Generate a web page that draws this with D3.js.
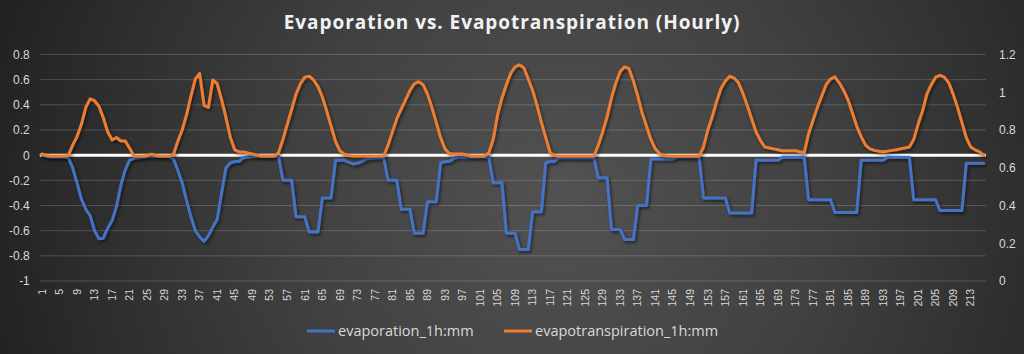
<!DOCTYPE html>
<html>
<head>
<meta charset="utf-8">
<title>Evaporation vs. Evapotranspiration (Hourly)</title>
<script src="https://cdn.jsdelivr.net/npm/d3@7"></script>
<style>
  body { margin: 0; background: #2a2a2a; }
  svg { display: block; font-family: "Open Sans", sans-serif; }
  .axis text { fill: #d9d9d9; }
  .grid-line { stroke: #d9d9d9; stroke-opacity: 0.22; stroke-width: 1; }
</style>
</head>
<body>
<script>
// hour index on the x axis
var hours = d3.range(1, 217);

// evaporation_1h:mm (left axis)
var evaporation = [
  0, -0.01, -0.015, -0.015, -0.015, -0.015, -0.02, -0.1, -0.22, -0.35,
  -0.43, -0.48, -0.6, -0.665, -0.66, -0.58, -0.52, -0.41, -0.24, -0.117,
  -0.04, -0.025, -0.02, -0.015, -0.01, -0.01, -0.01, -0.01, -0.01, -0.01,
  -0.03, -0.12, -0.22, -0.36, -0.49, -0.6, -0.65, -0.685, -0.64, -0.57,
  -0.51, -0.3, -0.1, -0.06, -0.05, -0.05, -0.02, -0.015, -0.01, -0.01,
  -0.01, -0.01, -0.01, -0.01, -0.01, -0.2, -0.2, -0.2, -0.49, -0.49,
  -0.49, -0.61, -0.61, -0.61, -0.34, -0.34, -0.34, -0.04, -0.04, -0.04,
  -0.055, -0.07, -0.065, -0.05, -0.03, -0.025, -0.022, -0.02, -0.018, -0.2,
  -0.2, -0.2, -0.43, -0.43, -0.43, -0.62, -0.62, -0.62, -0.37, -0.37,
  -0.37, -0.06, -0.05, -0.05, -0.024, -0.015, -0.015, -0.015, -0.015, -0.015,
  -0.015, -0.015, -0.015, -0.22, -0.22, -0.22, -0.62, -0.62, -0.62, -0.75,
  -0.75, -0.75, -0.45, -0.45, -0.45, -0.06, -0.05, -0.05, -0.02, -0.02,
  -0.02, -0.02, -0.02, -0.02, -0.02, -0.02, -0.02, -0.18, -0.18, -0.18,
  -0.59, -0.59, -0.59, -0.67, -0.67, -0.67, -0.4, -0.4, -0.4, -0.03,
  -0.03, -0.03, -0.03, -0.03, -0.03, -0.012, -0.012, -0.012, -0.012, -0.012,
  -0.012, -0.34, -0.34, -0.34, -0.34, -0.34, -0.34, -0.46, -0.46, -0.46,
  -0.46, -0.46, -0.46, -0.04, -0.04, -0.04, -0.04, -0.04, -0.04, -0.016,
  -0.016, -0.016, -0.016, -0.016, -0.016, -0.355, -0.355, -0.355, -0.355, -0.355,
  -0.355, -0.455, -0.455, -0.455, -0.455, -0.455, -0.455, -0.04, -0.04, -0.04,
  -0.04, -0.04, -0.04, -0.016, -0.016, -0.016, -0.016, -0.016, -0.016, -0.355,
  -0.355, -0.355, -0.355, -0.355, -0.355, -0.44, -0.44, -0.44, -0.44, -0.44,
  -0.44, -0.065, -0.065, -0.065, -0.065, -0.065
];

// evapotranspiration_1h:mm (right axis)
var evapotranspiration = [
  0.673, 0.665, 0.662, 0.662, 0.662, 0.662, 0.665, 0.72, 0.765, 0.83,
  0.92, 0.965, 0.955, 0.925, 0.865, 0.79, 0.747, 0.76, 0.742, 0.742,
  0.703, 0.662, 0.662, 0.662, 0.665, 0.672, 0.665, 0.662, 0.662, 0.662,
  0.67, 0.74, 0.8, 0.88, 0.98, 1.07, 1.1, 0.93, 0.92, 1.065,
  1.045, 0.96, 0.865, 0.76, 0.695, 0.684, 0.684, 0.678, 0.673, 0.667,
  0.662, 0.662, 0.662, 0.662, 0.68, 0.75, 0.83, 0.91, 0.99, 1.045,
  1.08, 1.085, 1.065, 1.03, 0.975, 0.9, 0.82, 0.74, 0.69, 0.672,
  0.665, 0.662, 0.662, 0.662, 0.662, 0.662, 0.662, 0.662, 0.662, 0.72,
  0.79, 0.86, 0.91, 0.96, 1.01, 1.045, 1.056, 1.04, 0.99, 0.92,
  0.84, 0.76, 0.7, 0.675, 0.673, 0.673, 0.673, 0.668, 0.662, 0.662,
  0.662, 0.662, 0.68, 0.75, 0.88, 0.97, 1.04, 1.1, 1.135, 1.145,
  1.13, 1.07, 1.01, 0.93, 0.84, 0.76, 0.68, 0.665, 0.662, 0.662,
  0.662, 0.662, 0.662, 0.662, 0.662, 0.662, 0.662, 0.72, 0.79, 0.87,
  0.97, 1.05, 1.11, 1.135, 1.125, 1.06, 0.98, 0.89, 0.82, 0.75,
  0.7, 0.675, 0.665, 0.662, 0.662, 0.662, 0.662, 0.662, 0.662, 0.662,
  0.662, 0.71, 0.8, 0.87, 0.95, 1.02, 1.06, 1.085, 1.075, 1.05,
  0.995, 0.93, 0.86, 0.79, 0.745, 0.71, 0.705, 0.7, 0.695, 0.69,
  0.69, 0.69, 0.69, 0.685, 0.68, 0.78, 0.85, 0.92, 0.98, 1.04,
  1.07, 1.082, 1.05, 1.01, 0.96, 0.89, 0.82, 0.765, 0.72, 0.7,
  0.692, 0.688, 0.685, 0.688, 0.692, 0.695, 0.7, 0.705, 0.71, 0.75,
  0.83, 0.9, 0.99, 1.04, 1.08, 1.09, 1.08, 1.05, 0.99, 0.92,
  0.84, 0.76, 0.71, 0.695, 0.685, 0.665
];

var leftTicks = [0.8, 0.6, 0.4, 0.2, 0, -0.2, -0.4, -0.6, -0.8, -1];
var rightTicks = [0, 0.2, 0.4, 0.6, 0.8, 1, 1.2];
var hourLabels = hours.filter(function(h) { return (h - 1) % 4 === 0; });
var seriesNames = ["evaporation_1h:mm", "evapotranspiration_1h:mm"];
var seriesColors = ["#4472C4", "#ED7D31"];

var width = 1024, height = 354,
    plotLeft = 39.8, plotRight = 986,
    plotTop = 54.5, plotBottom = 281;

var svg = d3.select("body").append("svg")
    .attr("width", width)
    .attr("height", height);

var defs = svg.append("defs");
var bg = defs.append("radialGradient").attr("id", "bg")
    .attr("gradientUnits", "userSpaceOnUse")
    .attr("cx", 560).attr("cy", 200).attr("r", 580);
bg.append("stop").attr("offset", "0").attr("stop-color", "#525252");
bg.append("stop").attr("offset", "0.45").attr("stop-color", "#414141");
bg.append("stop").attr("offset", "0.8").attr("stop-color", "#2e2e2e");
bg.append("stop").attr("offset", "1").attr("stop-color", "#222222");

defs.append("filter").attr("id", "shadow")
    .attr("x", "-5%").attr("y", "-10%").attr("width", "110%").attr("height", "125%")
  .append("feDropShadow")
    .attr("dx", 1.5).attr("dy", 2).attr("stdDeviation", 1.5)
    .attr("flood-color", "#000").attr("flood-opacity", 0.55);

svg.append("rect").attr("width", width).attr("height", height).attr("fill", "url(#bg)");

var x = d3.scaleBand().domain(hours).range([plotLeft, plotRight]);
var yLeft = d3.scaleLinear().domain([-1, 0.8]).range([plotBottom, plotTop]);
var yRight = d3.scaleLinear().domain([0, 1.2]).range([plotBottom, plotTop]);

function cx(h) { return x(h) + x.bandwidth() / 2; }

// gridlines
svg.append("g").selectAll("line").data(leftTicks).enter()
  .append("line").classed("grid-line", true)
  .attr("x1", plotLeft).attr("x2", plotRight)
  .attr("y1", function(d) { return yLeft(d); })
  .attr("y2", function(d) { return yLeft(d); });

// axes
var leftAxis = d3.axisLeft(yLeft).tickValues(leftTicks).tickSize(0).tickPadding(10)
    .tickFormat(function(d) { return String(d); });
svg.append("g").attr("class", "axis")
    .attr("transform", "translate(" + plotLeft + ",0)")
    .call(leftAxis)
    .call(function(g) { g.select(".domain").remove(); })
    .selectAll("text").style("font-size", "12px");

var rightAxis = d3.axisRight(yRight).tickValues(rightTicks).tickSize(0).tickPadding(13)
    .tickFormat(function(d) { return String(d); });
svg.append("g").attr("class", "axis")
    .attr("transform", "translate(" + plotRight + ",0)")
    .call(rightAxis)
    .call(function(g) { g.select(".domain").remove(); })
    .selectAll("text").style("font-size", "12px");

var bottomAxis = d3.axisBottom(x).tickValues(hourLabels).tickSize(0);
svg.append("g").attr("class", "axis")
    .attr("transform", "translate(0," + plotBottom + ")")
    .call(bottomAxis)
    .call(function(g) { g.select(".domain").remove(); })
    .selectAll("text")
    .style("font-size", "10.5px")
    .attr("transform", "rotate(-90)")
    .attr("text-anchor", "end")
    .attr("x", -8).attr("y", 0).attr("dy", "0.35em");

// zero line
svg.append("line")
    .attr("x1", plotLeft).attr("x2", plotRight)
    .attr("y1", yLeft(0)).attr("y2", yLeft(0))
    .attr("stroke", "#ffffff").attr("stroke-width", 3);

// series
var evapLine = d3.line()
    .x(function(d, i) { return cx(hours[i]); })
    .y(function(d) { return yLeft(d); });
var etLine = d3.line()
    .x(function(d, i) { return cx(hours[i]); })
    .y(function(d) { return yRight(d); });

svg.append("path").datum(evaporation)
    .attr("d", evapLine)
    .attr("fill", "none").attr("stroke", seriesColors[0])
    .attr("stroke-width", 3).attr("stroke-linejoin", "round").attr("stroke-linecap", "round")
    .attr("filter", "url(#shadow)");

svg.append("path").datum(evapotranspiration)
    .attr("d", etLine)
    .attr("fill", "none").attr("stroke", seriesColors[1])
    .attr("stroke-width", 3).attr("stroke-linejoin", "round").attr("stroke-linecap", "round")
    .attr("filter", "url(#shadow)");

// title
svg.append("text")
    .attr("x", 512).attr("y", 29)
    .attr("text-anchor", "middle")
    .style("font-size", "19px").style("font-weight", "bold")
    .style("letter-spacing", "0.95px")
    .attr("fill", "#f2f2f2")
    .text("Evaporation vs. Evapotranspiration (Hourly)");

// legend
var legendX = [307, 504];
var legend = svg.append("g").selectAll("g").data(seriesNames).enter()
  .append("g")
  .attr("transform", function(d, i) { return "translate(" + legendX[i] + ",331)"; });
legend.append("line")
    .attr("x1", 0).attr("x2", 28).attr("y1", 0).attr("y2", 0)
    .attr("stroke", function(d, i) { return seriesColors[i]; })
    .attr("stroke-width", 3);
legend.append("text")
    .attr("x", 31).attr("y", 0).attr("dy", "0.35em")
    .style("font-size", "14.5px")
    .attr("fill", "#d9d9d9")
    .text(function(d) { return d; });
</script>
</body>
</html>
